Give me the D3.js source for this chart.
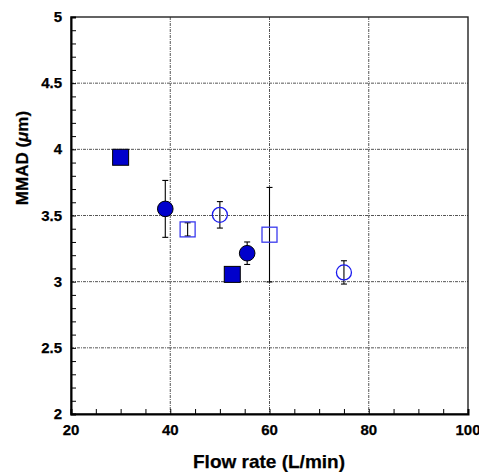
<!DOCTYPE html>
<html>
<head>
<meta charset="utf-8">
<script src="https://cdn.jsdelivr.net/npm/d3@7"></script>
<style>
  body { margin: 0; background: #fff; }
  svg text { font-family: Arial, "Liberation Sans", sans-serif; font-weight: bold; fill: #000; stroke: #000; stroke-width: 0.25px; }
</style>
</head>
<body>
<svg id="chart" width="479" height="472"></svg>
<script>
// ---- data ----
const xTicks = [20, 40, 60, 80, 100];
const yTicks = [2, 2.5, 3, 3.5, 4, 4.5, 5];
const xTickLabels = ["20", "40", "60", "80", "100"];
const yTickLabels = ["2", "2.5", "3", "3.5", "4", "4.5", "5"];

const filledSquareX = [30, 52.5];
const filledSquareY = [3.94, 3.055];

const filledCircleX = [39, 55.5];
const filledCircleY = [3.55, 3.215];
const filledCircleErr = [0.215, 0.085];

const openSquareX = [43.5, 60];
const openSquareY = [3.395, 3.355];
const openSquareErr = [0.05, 0.357];

const openCircleX = [50, 75];
const openCircleY = [3.505, 3.07];
const openCircleErr = [0.1, 0.088];

const xLabel = "Flow rate (L/min)";

// ---- layout ----
const svg = d3.select("#chart");
const L = 71, R = 468, T = 17, B = 414;
const x = d3.scaleLinear().domain([20, 100]).range([L, R]);
const y = d3.scaleLinear().domain([2, 5]).range([B, T]);

// grid
const grid = svg.append("g");
xTicks.slice(1, -1).forEach(v => {
  grid.append("line").attr("x1", x(v)).attr("x2", x(v)).attr("y1", T).attr("y2", B)
    .attr("stroke", "#555").attr("stroke-width", 1).attr("stroke-dasharray", "3,1,1,1");
});
yTicks.slice(1, -1).forEach(v => {
  grid.append("line").attr("x1", L).attr("x2", R).attr("y1", y(v)).attr("y2", y(v))
    .attr("stroke", "#555").attr("stroke-width", 1).attr("stroke-dasharray", "3,1,1,1");
});

// frame
svg.append("rect").attr("x", L).attr("y", T).attr("width", R - L).attr("height", B - T)
  .attr("fill", "none").attr("stroke", "#222").attr("stroke-width", 1.4);

// axes with inward minor ticks
const xMinor = d3.range(20, 100.01, 5);
const yMinor = d3.range(2, 5.001, 0.1);
const xAxis = d3.axisBottom(x).tickValues(xMinor).tickSize(-5).tickFormat("");
const yAxis = d3.axisLeft(y).tickValues(yMinor).tickSize(-5).tickFormat("");
const gx = svg.append("g").attr("transform", `translate(0,${B})`).call(xAxis);
const gy = svg.append("g").attr("transform", `translate(${L},0)`).call(yAxis);
[gx, gy].forEach(g => {
  g.select(".domain").attr("stroke", "#000").attr("stroke-width", 2);
  g.selectAll(".tick line").attr("stroke", "#000").attr("stroke-width", 1);
});

// tick labels
svg.append("g").selectAll("text").data(xTicks).join("text")
  .attr("x", d => x(d)).attr("y", 435).attr("text-anchor", "middle")
  .style("font-size", "15px").text((d, i) => xTickLabels[i]);
svg.append("g").selectAll("text").data(yTicks).join("text")
  .attr("x", 62).attr("y", d => y(d) + 5).attr("text-anchor", "end")
  .style("font-size", "15px").text((d, i) => yTickLabels[i]);

// axis titles
svg.append("text").attr("x", 269).attr("y", 468).attr("text-anchor", "middle")
  .style("font-size", "19px").text(xLabel);
const yl = svg.append("text").attr("transform", "translate(28,158) rotate(-90)")
  .attr("text-anchor", "middle").style("font-size", "17px");
yl.append("tspan").text("MMAD (");
yl.append("tspan").style("font-style", "italic").text("\u03BC");
yl.append("tspan").text("m)");

// error bars
function errBars(xs, ys, es) {
  const g = svg.append("g").attr("stroke", "#000").attr("stroke-width", 1.1);
  xs.forEach((xv, i) => {
    const cx = x(xv), y1 = y(ys[i] + es[i]), y2 = y(ys[i] - es[i]);
    g.append("line").attr("x1", cx).attr("x2", cx).attr("y1", y1).attr("y2", y2);
    g.append("line").attr("x1", cx - 3).attr("x2", cx + 3).attr("y1", y1).attr("y2", y1);
    g.append("line").attr("x1", cx - 3).attr("x2", cx + 3).attr("y1", y2).attr("y2", y2);
  });
}
errBars(filledCircleX, filledCircleY, filledCircleErr);
errBars(openSquareX, openSquareY, openSquareErr);
errBars(openCircleX, openCircleY, openCircleErr);

// markers
const S = 16;
svg.append("g").selectAll("rect").data(filledSquareX).join("rect")
  .attr("x", (d) => x(d) - S / 2).attr("y", (d, i) => y(filledSquareY[i]) - S / 2)
  .attr("width", S).attr("height", S).attr("fill", "#0000CC").attr("stroke", "#000").attr("stroke-width", 1);
svg.append("g").selectAll("circle").data(filledCircleX).join("circle")
  .attr("cx", d => x(d)).attr("cy", (d, i) => y(filledCircleY[i])).attr("r", 7.8)
  .attr("fill", "#0000CC").attr("stroke", "#000").attr("stroke-width", 1);
svg.append("g").selectAll("rect").data(openSquareX).join("rect")
  .attr("x", (d) => x(d) - 7.5).attr("y", (d, i) => y(openSquareY[i]) - 7.5)
  .attr("width", 15).attr("height", 15).attr("fill", "none").attr("stroke", "#3a3aee").attr("stroke-width", 1.3);
svg.append("g").selectAll("circle").data(openCircleX).join("circle")
  .attr("cx", d => x(d)).attr("cy", (d, i) => y(openCircleY[i])).attr("r", 7.5)
  .attr("fill", "none").attr("stroke", "#1a1aee").attr("stroke-width", 1.3);
</script>
</body>
</html>
